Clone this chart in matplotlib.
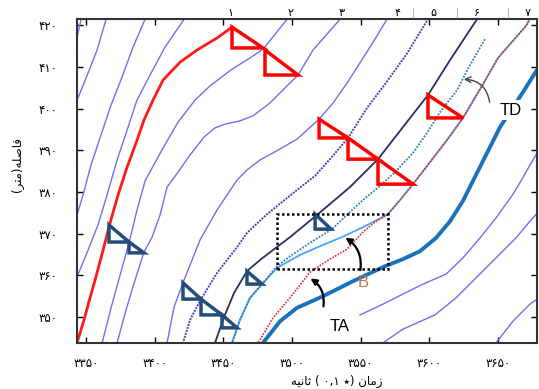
import matplotlib
matplotlib.use('Agg')
import matplotlib.pyplot as plt
from matplotlib.patches import Polygon, Rectangle

plt.rcParams['font.family'] = ['DejaVu Sans']

# trajectories: time (0.1 s) and distance (m)
corner_t = [3343.0, 3346.4, 3346.8]
corner_d = [416.5, 421.5, 422.5]
a_t = [3365.0, 3364.6, 3358.0, 3351.5, 3345.6, 3343.4, 3342.0]
a_d = [422.5, 421.5, 414.1, 408.6, 403.8, 402.1, 401.0]
b_t = [3393.5, 3393.0, 3384.2, 3376.2, 3368.2, 3360.9, 3353.6, 3347.8, 3343.4, 3342.0]
b_d = [422.5, 421.5, 414.8, 407.6, 400.9, 393.7, 386.5, 379.3, 374.5, 372.5]
c_t = [3422.0, 3421.4, 3407.5, 3396.6, 3387.1, 3379.9, 3372.6, 3365.3, 3358.7, 3351.5, 3343.4, 3342.0]
c_d = [422.5, 421.5, 414.8, 408.1, 402.1, 394.9, 387.7, 379.3, 372.1, 366.1, 359.6, 358.0]

veh1_t = [3456.3, 3445.4, 3430.8, 3418.5, 3406.1, 3398.8, 3392.2, 3386.4, 3379.9, 3373.3,
          3367.5, 3362.4, 3358.0, 3352.9, 3348.5, 3343.4, 3342.0]
veh1_d = [419.6, 417.0, 414.1, 411.2, 406.9, 402.1, 397.3, 391.8, 386.0, 379.3,
          372.6, 366.1, 360.6, 354.6, 349.3, 343.8, 342.5]
veh2_t = [3497.5, 3496.4, 3478.9, 3469.4, 3456.3, 3440.3, 3429.4, 3417.0, 3406.1, 3397.3, 3393.0,
          3387.1, 3381.3, 3374.8, 3368.2, 3361.7, 3361.0]
veh2_d = [422.5, 421.5, 414.3, 412.2, 409.5, 405.5, 402.1, 396.8, 390.6, 385.3, 382.7,
          375.7, 367.8, 360.1, 352.2, 343.8, 342.5]
veh3_t = [3536.0, 3535.0, 3515.3, 3504.4, 3496.4, 3484.0, 3471.6, 3462.1, 3451.2, 3443.9, 3435.9,
          3425.7, 3417.0, 3409.0, 3403.9, 3398.1, 3392.2, 3385.7, 3379.1, 3372.6, 3372.0]
veh3_d = [422.5, 421.5, 414.1, 408.1, 405.5, 401.4, 398.3, 397.1, 396.3, 395.4, 393.2,
          388.9, 384.8, 381.2, 374.5, 369.2, 365.6, 358.9, 351.7, 343.8, 342.5]
veh4_t = [3570.0, 3569.2, 3556.8, 3540.1, 3529.9, 3519.7, 3503.6, 3486.2, 3476.7, 3467.2, 3460.0,
          3445.4, 3433.0, 3421.4, 3414.1, 3409.0, 3408.5]
veh4_d = [422.5, 421.5, 414.8, 406.2, 401.4, 397.5, 392.7, 389.4, 387.7, 385.3, 382.9,
          375.7, 368.5, 358.9, 352.4, 343.8, 342.5]
veh5_t = [3599.5, 3599.0, 3583.0, 3567.7, 3554.6, 3540.8, 3528.4, 3516.8, 3503.6, 3481.8, 3467.2,
          3460.0, 3445.4, 3433.7, 3425.7, 3420.6, 3420.0]
veh5_d = [422.5, 421.5, 412.9, 405.9, 400.2, 393.0, 388.2, 383.9, 380.5, 374.7, 370.2,
          366.8, 360.6, 354.3, 349.3, 343.8, 342.5]
veh6_t = [3635.5, 3634.7, 3615.1, 3599.0, 3580.8, 3562.6, 3542.2, 3518.2, 3498.6, 3486.2, 3476.7,
          3467.2, 3457.8, 3450.5, 3443.9, 3443.3]
veh6_d = [422.5, 421.5, 411.7, 403.3, 395.6, 387.9, 381.2, 374.5, 369.2, 366.1, 363.7,
          361.0, 355.8, 350.0, 343.8, 342.5]

# TD (dotted), B (solid light blue), TA (dotted red)
td_t = [3640.5, 3629.6, 3620.2, 3607.8, 3598.3, 3588.1, 3575.0, 3564.1, 3551.7, 3542.2, 3529.1,
        3513.1, 3498.6, 3489.1, 3478.2, 3469.4, 3462.1, 3456.3, 3455.8]
td_d = [416.7, 410.5, 404.5, 399.2, 394.2, 389.4, 384.8, 381.5, 378.1, 375.2, 371.1,
        367.8, 364.6, 362.2, 357.9, 354.6, 349.3, 343.8, 342.5]
merge_t = [3569.9, 3578.7, 3588.1, 3600.5, 3612.9, 3624.5, 3639.1, 3650.0, 3670.4, 3674.8]
merge_d = [374.7, 378.1, 381.9, 387.2, 392.5, 397.8, 405.9, 412.2, 419.9, 422.5]
bl_t = [3455.8, 3456.3, 3462.1, 3469.4, 3478.2, 3489.1, 3505.8, 3520.4, 3536.4, 3553.2] + merge_t
bl_d = [342.5, 343.8, 349.3, 354.6, 357.9, 361.8, 364.9, 367.0, 369.2, 371.8] + merge_d
ta_t = [3474.5, 3475.3, 3486.2, 3500.7, 3513.1, 3527.7, 3540.1, 3551.7, 3560.5] + merge_t
ta_d = [342.5, 343.8, 349.8, 355.5, 360.8, 363.9, 366.3, 370.4, 372.8] + merge_d

thick_t = [3478.3, 3478.9, 3491.3, 3503.6, 3522.6, 3544.4, 3567.7, 3580.8, 3593.2, 3604.9,
           3615.1, 3624.5, 3631.8, 3651.5, 3668.2, 3680.6]
thick_d = [342.5, 343.8, 349.0, 352.2, 355.0, 358.6, 362.2, 363.9, 365.8, 369.0,
           373.0, 377.9, 382.7, 395.6, 404.0, 410.5]

j_t = [3549.5, 3566.3, 3580.8, 3595.4, 3612.2, 3624.5, 3636.9, 3648.6, 3660.9, 3666.8, 3673.3, 3680.6]
j_d = [350.5, 353.1, 355.5, 357.9, 360.3, 364.2, 369.0, 373.8, 379.5, 382.7, 386.5, 390.6]
k_t = [3564.5, 3566.3, 3580.8, 3604.1, 3619.4, 3634.0, 3648.6, 3663.1, 3673.3, 3680.6]
k_d = [342.5, 343.8, 347.1, 350.5, 354.6, 359.4, 364.2, 369.0, 373.0, 375.7]
l_t = [3647.5, 3648.6, 3660.9, 3673.3, 3680.6]
l_d = [342.5, 343.8, 349.0, 353.1, 354.8]

# shock triangles: apex (t1, d1), right corner (t2, d2)
red_tri = [(3456.3, 419.6, 3478.9, 414.6),
           (3480.3, 414.1, 3504.4, 408.1),
           (3519.7, 397.5, 3540.8, 393.0),
           (3540.8, 393.0, 3562.6, 387.9),
           (3562.6, 387.9, 3588.1, 381.9),
           (3599.0, 403.3, 3624.5, 397.8)]
blue_tri = [(3366.7, 372.1, 3381.3, 368.0),
            (3381.3, 368.0, 3392.2, 365.4),
            (3420.6, 358.2, 3433.7, 354.3),
            (3433.7, 354.3, 3449.0, 350.5),
            (3449.0, 350.5, 3460.0, 347.4),
            (3467.2, 361.0, 3478.2, 357.9),
            (3516.8, 374.7, 3528.4, 371.1)]

box_t = [3489.1, 3569.9]
box_d = [361.5, 374.7]

veh_labels = ['1', '2', '3', '4', '5', '6', '7']
veh_label_t = [3454.9, 3498.6, 3536.4, 3576.5, 3602.7, 3634.7, 3671.9]
sep_t = [3588.1, 3620.2, 3657.3]

xticks = [3350, 3400, 3450, 3500, 3550, 3600, 3650]
yticks = [350, 360, 370, 380, 390, 400, 410, 420]

fa = str.maketrans('0123456789', '۰۱۲۳۴۵۶۷۸۹')

# Persian labels, written in visual (left-to-right) order with joined letter forms
xlab = '\uFEEA\uFEF4\uFEE7\uFE8E\uFE9B ( \u06F0,\u06F1 \u066D) \uFEE5\uFE8E\uFEE3\uFEAF'
ylab = '(\uFEAE\uFE98\uFEE3)\uFEEA\uFEE0\uFEBB\uFE8E\uFED3'

fig = plt.figure(figsize=(5.39, 3.89), dpi=100)
ax = fig.add_axes([77 / 539, 46 / 389, 460 / 539, 324 / 389])

thin = dict(color='#6f6ff2', lw=1.0)
for t, d in [(corner_t, corner_d), (a_t, a_d), (b_t, b_d), (c_t, c_d), (veh2_t, veh2_d),
             (veh3_t, veh3_d), (veh4_t, veh4_d), (j_t, j_d), (k_t, k_d), (l_t, l_d)]:
    ax.plot(t, d, **thin)

ax.plot(veh1_t, veh1_d, color='#ff1a1a', lw=2.0)
ax.plot(veh5_t, veh5_d, color='#4646b4', lw=1.4, ls=(0, (1, 0.6)))
ax.plot(veh6_t, veh6_d, color='#2c2c66', lw=1.3)
ax.plot(thick_t, thick_d, color='#1a72bd', lw=2.8)
ax.plot(bl_t, bl_d, color='#49a6ff', lw=1.3)
ax.plot(td_t, td_d, color='#2f7fb0', lw=1.3, ls=(0, (1, 0.8)))
ax.plot(ta_t, ta_d, color='#e82a2a', lw=1.2, ls=(0, (1, 0.8)))

for t1, d1, t2, d2 in red_tri:
    ax.add_patch(Polygon([(t1, d1), (t1, d2), (t2, d2)], closed=True, fill=False,
                         ec='#ff0000', lw=2.5, joinstyle='miter', zorder=4))
for t1, d1, t2, d2 in blue_tri:
    ax.add_patch(Polygon([(t1, d1), (t1, d2), (t2, d2)], closed=True, fill=False,
                         ec='#244c78', lw=2.5, joinstyle='miter', zorder=4))

ax.add_patch(Rectangle((box_t[0], box_d[0]), box_t[1] - box_t[0], box_d[1] - box_d[0],
                       fill=False, ec='black', lw=1.8, ls=(0, (1, 1)), zorder=4))

lab = ['Liberation Sans', 'DejaVu Sans']
ax.text(3659.5, 399.7, 'TD', fontsize=12, family=lab, ha='center', va='center',
        bbox=dict(fc='white', ec='none', pad=2), zorder=5)
ax.text(3551.7, 358.2, 'B', fontsize=12, family=lab, color='#b8784a', ha='center', va='center', zorder=5)
ax.text(3535.0, 347.8, 'TA', fontsize=12, family=lab, ha='center', va='center', zorder=5)

ax.annotate('', xy=(3623.1, 407.1), xytext=(3644.2, 400.9),
            arrowprops=dict(arrowstyle='->', color='#444444', lw=1.0,
                            connectionstyle='arc3,rad=0.45'), zorder=5)
ax.annotate('', xy=(3537.1, 369.4), xytext=(3549.5, 360.6),
            arrowprops=dict(arrowstyle='-|>', color='black', lw=1.6, mutation_scale=9,
                            connectionstyle='arc3,rad=0.35'), zorder=5)
ax.annotate('', xy=(3511.7, 359.6), xytext=(3522.6, 351.9),
            arrowprops=dict(arrowstyle='-|>', color='black', lw=1.6, mutation_scale=9,
                            connectionstyle='arc3,rad=0.35'), zorder=5)

for s, t in zip(veh_labels, veh_label_t):
    ax.text(t, 1.018, s.translate(fa), transform=ax.get_xaxis_transform(),
            ha='center', va='center', fontsize=8)
for t in sep_t:
    ax.text(t, 1.02, '|', transform=ax.get_xaxis_transform(), ha='center', va='center',
            fontsize=7, color='#9a9aaa')

ax.set_xlim(3343.4, 3678.4)
ax.set_ylim(343.76, 421.55)
ax.set_xticks(xticks)
ax.set_xticklabels([str(v).translate(fa) for v in xticks])
ax.set_yticks(yticks)
ax.set_yticklabels([str(v).translate(fa) for v in yticks])
ax.tick_params(direction='in', top=True, right=True, length=4, width=1, labelsize=8.5)
ax.tick_params(axis='x', pad=10)
ax.tick_params(axis='y', pad=14)
for sp in ax.spines.values():
    sp.set_linewidth(1.5)
    sp.set_color('#333333')

ax.set_xlabel(xlab, fontsize=8.5)
ax.xaxis.set_label_coords(0.565, -0.118)
ax.xaxis.label.set_va('center')
ax.set_ylabel(ylab, fontsize=8.5)
ax.yaxis.set_label_coords(-0.13, 0.55)
ax.yaxis.label.set_ha('center')
ax.yaxis.label.set_va('center')

fig.savefig('out.png', dpi=100)
